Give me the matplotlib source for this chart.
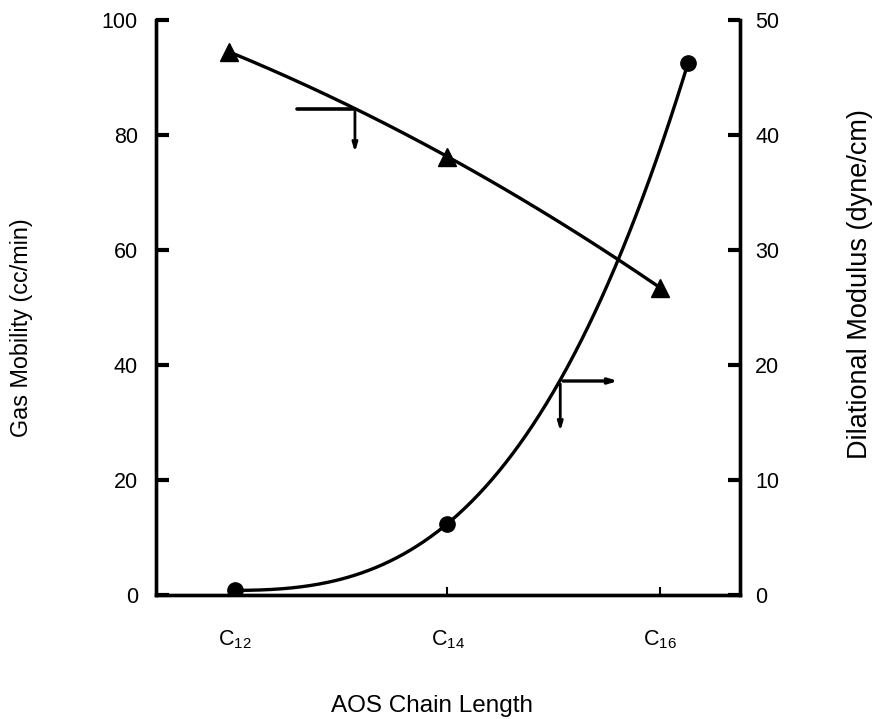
import numpy as np
import matplotlib
matplotlib.use("Agg")
import matplotlib.pyplot as plt

plt.rcParams["font.family"] = ["Liberation Sans", "DejaVu Sans"]
plt.rcParams["mathtext.fontset"] = "custom"
plt.rcParams["mathtext.rm"] = "Liberation Sans"
plt.rcParams["mathtext.it"] = "Liberation Sans"

# chain length positions (C12, C14, C16)
chain_x = [12, 14, 16]
chain_labels = [r"C$_{12}$", r"C$_{14}$", r"C$_{16}$"]

# gas mobility (left axis), triangles
mob_x = [11.95, 14.0, 16.0]
mob_y = [94.4, 76.2, 53.4]

# dilational modulus (right axis), circles
mod_x = [12.0, 14.0, 16.26]
mod_y = [0.4, 6.2, 46.2]

fig = plt.figure(figsize=(8.73, 7.19), dpi=100)
ax = fig.add_axes([0.1787, 0.1725, 0.669, 0.80])
ax2 = ax.twinx()

lw = 2.4

# smooth curve through triangles: quadratic
c = np.polyfit(mob_x, mob_y, 2)
xs = np.linspace(mob_x[0], mob_x[-1], 200)
ax.plot(xs, np.polyval(c, xs), color="black", lw=lw)
ax.plot(mob_x, mob_y, "^", color="black", ms=13)

# smooth curve through circles: cubic, flat at first point
t = np.array(mod_x) - mod_x[0]
A = np.array([[t[1]**2, t[1]**3], [t[2]**2, t[2]**3]])
b = np.array([mod_y[1] - mod_y[0], mod_y[2] - mod_y[0]])
cc, dd = np.linalg.solve(A, b)
xs2 = np.linspace(mod_x[0], mod_x[-1], 200)
ts = xs2 - mod_x[0]
ax2.plot(xs2, mod_y[0] + cc * ts**2 + dd * ts**3, color="black", lw=lw)
ax2.plot(mod_x, mod_y, "o", color="black", ms=11)

# axis pointer arrows
ax.plot([12.59, 13.13], [84.5, 84.5], color="black", lw=2.6, solid_capstyle="round")
ax.annotate("", xy=(13.13, 76.5), xytext=(13.13, 84.5),
            arrowprops=dict(arrowstyle="->,head_length=0.5,head_width=0.15", lw=2.0, color="black"))
ax2.annotate("", xy=(15.63, 18.6), xytext=(15.06, 18.6),
             arrowprops=dict(arrowstyle="->,head_length=0.5,head_width=0.15", lw=2.4, color="black"))
ax2.annotate("", xy=(15.06, 14.0), xytext=(15.06, 18.6),
             arrowprops=dict(arrowstyle="->,head_length=0.5,head_width=0.15", lw=2.0, color="black"))

ax.set_xlim(11.26, 16.75)
ax.set_ylim(0, 100)
ax2.set_ylim(0, 50)

ax.set_xticks(chain_x)
ax.set_xticklabels(chain_labels, fontsize=15.5)
ax.set_yticks(np.arange(0, 101, 20))
ax2.set_yticks(np.arange(0, 51, 10))

for a in (ax, ax2):
    a.spines["top"].set_visible(False)
    for s in ("left", "right", "bottom"):
        a.spines[s].set_linewidth(2.4)
ax.spines["right"].set_visible(True)

ax.tick_params(axis="y", direction="in", length=9, width=3, labelsize=15.5, pad=13)
ax.tick_params(axis="x", direction="in", length=6, width=1.5, labelsize=15.5, pad=24)
ax2.tick_params(axis="y", direction="in", length=9, width=3, labelsize=15.5, pad=11)

fig.text(22 / 873, 1 - 328 / 719, "Gas Mobility (cc/min)", rotation=90,
         ha="center", va="center", fontsize=16.8)
fig.text(860 / 873, 1 - 284 / 719, "Dilational Modulus (dyne/cm)", rotation=90,
         ha="center", va="center", fontsize=19.5)
fig.text(432 / 873, 1 - 712 / 719, "AOS Chain Length", ha="center", va="baseline",
         fontsize=17.5)

fig.savefig("out.png", dpi=100)
